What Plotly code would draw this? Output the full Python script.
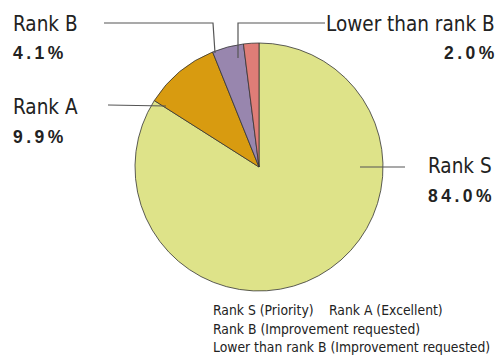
import plotly.graph_objects as go

labels = ["Rank S", "Rank A", "Rank B", "Lower than rank B"]
values = [84.0, 9.9, 4.1, 2.0]
legend_labels = ["Rank S (Priority)", "Rank A (Excellent)",
                 "Rank B (Improvement requested)",
                 "Lower than rank B (Improvement requested)"]
colors = ["#dee389", "#d89b10", "#9886ae", "#df7d77"]

W, H = 499, 356
NARROW = "Liberation Sans Narrow, DejaVu Sans Condensed, Arial Narrow, sans-serif"
BOLD = "Liberation Sans, Arial, sans-serif"


def px(x):
    return x / W


def py(y):
    return 1 - y / H


def spaced(s):
    return "\u2009".join(s)


cx, cy, r = 259, 167, 124

fig = go.Figure(go.Pie(
    labels=labels, values=values, sort=False, direction="clockwise",
    rotation=0, textinfo="none", hoverinfo="label+percent",
    marker=dict(colors=colors, line=dict(color="#333333", width=0.8)),
    domain=dict(x=[px(cx - r), px(cx + r)], y=[py(cy + r), py(cy - r)]),
    showlegend=False,
))

# label layout: (name index, label x, label y, pct y, anchor)
label_pos = [
    (0, 494, 166, 196, "right"),
    (1, 11, 107, 137, "left"),
    (2, 11, 24, 53, "left"),
    (3, 497, 24, 53, "right"),
]
anns = []
for i, x, y1, y2, anc in label_pos:
    anns.append(dict(x=px(x), y=py(y1), xref="paper", yref="paper",
                     text=labels[i], showarrow=False, xanchor=anc, yanchor="middle",
                     font=dict(family=NARROW, size=20.5, color="#222")))
    anns.append(dict(x=px(x), y=py(y2), xref="paper", yref="paper",
                     text="<b>" + spaced(f"{values[i]:.1f}%") + "</b>", showarrow=False,
                     xanchor=anc, yanchor="middle",
                     font=dict(family=BOLD, size=17.5, color="#222")))

# legend (text only) rows: (label index, x, y)
legend_pos = [(0, 211, 310), (1, 327, 310), (2, 211, 328.5), (3, 211, 346.5)]
for i, x, y in legend_pos:
    anns.append(dict(x=px(x), y=py(y), xref="paper", yref="paper", text=legend_labels[i],
                     showarrow=False, xanchor="left", yanchor="middle",
                     font=dict(family=NARROW, size=13.8, color="#222")))

leaders = [
    [(360, 167), (405, 167)],
    [(108, 105), (166, 106)],
    [(104, 23), (213, 23), (215, 53)],
    [(325, 23), (238, 23), (238, 58)],
]
shapes = []
for pts in leaders:
    path = "M " + " L ".join(f"{px(x)},{py(y)}" for x, y in pts)
    shapes.append(dict(type="path", path=path, xref="paper", yref="paper",
                       line=dict(color="#555555", width=1.2)))

fig.update_layout(width=W, height=H, margin=dict(l=0, r=0, t=0, b=0),
                  paper_bgcolor="white", plot_bgcolor="white",
                  annotations=anns, shapes=shapes)
fig.write_html("out.html", config={"displayModeBar": False},
               post_script="document.body.style.margin='0';")
